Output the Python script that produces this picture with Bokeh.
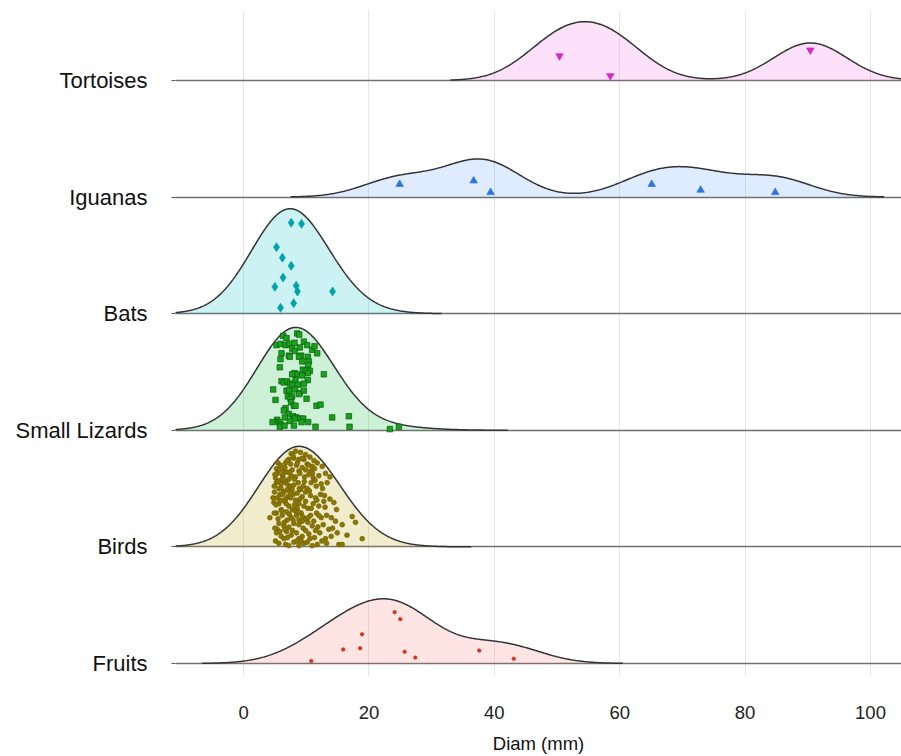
import numpy as np
from bokeh.plotting import figure
from bokeh.models import FixedTicker, Range1d
from bokeh.embed import file_html
from bokeh.resources import INLINE

# ---------------- data ----------------
categories = ["Fruits", "Birds", "Small Lizards", "Bats", "Iguanas", "Tortoises"]
x_ticks = [0, 20, 40, 60, 80, 100]

fruits_diam = [10.8, 15.9, 18.6, 18.9, 24.1, 25.0, 25.7, 27.4, 37.6, 43.1]
fruits_jit = [0.02, 0.12, 0.13, 0.25, 0.44, 0.38, 0.10, 0.05, 0.11, 0.04]

birds_diam = [
    7.60, 8.29, 9.09, 9.89, 10.58, 8.03, 8.83, 9.62, 11.22, 7.23,
    5.48, 5.90, 6.70, 7.50, 8.45, 9.36, 10.15, 10.95, 11.75, 12.55, 5.26, 6.43, 7.76, 8.83, 10.69, 11.32,
    5.37, 6.17, 6.86, 7.60, 8.29, 8.98, 9.73, 10.42, 11.11, 12.01, 13.08, 13.77, 5.10, 5.90, 7.23,
    5.26, 6.01, 6.70, 7.39, 8.03, 8.72, 9.52, 10.15, 10.79, 11.59, 12.39, 13.34, 5.64, 6.96, 7.76, 9.09,
    4.94, 5.79, 6.43, 7.07, 7.92, 8.56, 9.36, 9.89, 10.69, 11.48, 12.28, 12.92, 13.77, 5.37, 6.70, 8.29,
    4.84, 5.64, 6.54, 7.23, 8.13, 8.83, 9.62, 10.26, 11.11, 12.01, 12.81, 14.41, 14.83, 6.01, 7.76, 8.56,
    5.26, 6.17, 6.86, 7.60, 8.45, 9.20, 9.89, 10.69, 11.64, 12.39, 13.24, 17.33, 4.20, 8.83, 6.96,
    5.64, 6.43, 7.23, 8.03, 8.83, 9.52, 10.26, 10.95, 11.86, 12.71, 13.61, 14.67, 15.74, 17.86, 5.37, 9.36,
    5.26, 6.01, 6.86, 7.60, 8.45, 9.36, 10.42, 11.32, 12.17, 13.08, 13.98, 14.94, 18.93, 6.43, 8.83,
    5.10, 5.64, 6.70, 8.03, 9.20, 9.62, 10.15, 11.75, 13.24, 15.20, 15.74, 7.23, 8.83, 10.95,
    5.0, 5.7, 6.3, 6.6, 7.0, 7.3, 7.9, 8.6, 9.4, 9.9, 10.4, 11.0,
    4.9, 5.5, 6.0, 6.3, 6.9, 7.4, 8.1, 8.9, 9.7, 10.5, 11.4, 12.6,
    4.7, 5.2, 5.9, 6.2, 6.8, 7.5, 8.2, 9.0, 9.9, 10.8, 11.7, 13.0,
    4.9, 5.5, 6.1, 6.5, 7.3, 7.9, 8.7, 9.4, 10.3, 11.2, 12.0, 14.0,
    5.0, 5.8, 6.6, 7.0, 7.8, 8.5, 9.9, 10.6, 11.5, 12.5, 14.2, 16.5,
]
birds_jit = [
    0.80, 0.82, 0.81, 0.79, 0.77, 0.76, 0.75, 0.75, 0.74, 0.75,
    0.72, 0.70, 0.72, 0.71, 0.70, 0.68, 0.71, 0.69, 0.72, 0.69, 0.67, 0.66, 0.66, 0.65, 0.65, 0.67,
    0.63, 0.62, 0.64, 0.61, 0.60, 0.63, 0.60, 0.62, 0.59, 0.61, 0.63, 0.60, 0.59, 0.57, 0.58,
    0.55, 0.54, 0.56, 0.52, 0.53, 0.55, 0.52, 0.50, 0.55, 0.52, 0.54, 0.55, 0.50, 0.49, 0.49, 0.49,
    0.47, 0.45, 0.47, 0.43, 0.45, 0.46, 0.43, 0.47, 0.44, 0.42, 0.45, 0.44, 0.41, 0.42, 0.41, 0.40,
    0.38, 0.37, 0.39, 0.35, 0.36, 0.37, 0.35, 0.33, 0.37, 0.35, 0.39, 0.38, 0.32, 0.32, 0.32, 0.33,
    0.29, 0.27, 0.30, 0.25, 0.27, 0.29, 0.24, 0.27, 0.29, 0.25, 0.27, 0.26, 0.25, 0.23, 0.23,
    0.20, 0.18, 0.17, 0.20, 0.19, 0.16, 0.21, 0.18, 0.17, 0.19, 0.15, 0.22, 0.19, 0.21, 0.15, 0.22,
    0.12, 0.09, 0.13, 0.10, 0.12, 0.09, 0.11, 0.08, 0.12, 0.07, 0.09, 0.12, 0.07, 0.07, 0.07,
    0.05, 0.03, 0.02, 0.04, 0.05, 0.03, 0.04, 0.02, 0.03, 0.02, 0.02, 0.01, 0.01, 0.01,
    0.62, 0.66, 0.60, 0.68, 0.74, 0.64, 0.78, 0.72, 0.76, 0.66, 0.70, 0.63,
    0.52, 0.56, 0.50, 0.58, 0.54, 0.47, 0.58, 0.50, 0.56, 0.48, 0.57, 0.50,
    0.42, 0.36, 0.40, 0.45, 0.37, 0.42, 0.31, 0.41, 0.39, 0.33, 0.40, 0.34,
    0.29, 0.24, 0.31, 0.21, 0.28, 0.23, 0.30, 0.26, 0.25, 0.22, 0.27, 0.25,
    0.16, 0.13, 0.15, 0.08, 0.14, 0.05, 0.14, 0.07, 0.14, 0.05, 0.16, 0.10,
]

lizards_diam = [
    6.33, 6.86, 8.56, 8.88, 5.26, 5.90, 6.70, 7.28, 8.13, 9.62, 10.15, 10.95, 11.32, 11.75,
    6.06, 7.23, 7.76, 8.19, 8.98, 9.20, 5.90, 7.39, 8.83, 10.26, 10.42, 9.36, 10.31, 5.79,
    8.13, 8.45, 7.76, 9.46, 9.89, 10.58, 10.26, 9.36, 12.81, 6.06, 6.43, 6.96, 7.39, 8.29,
    10.26, 7.76, 8.72, 9.62, 4.73, 6.86, 7.28, 8.19, 8.98, 9.62, 7.07, 7.76, 8.83, 10.05,
    5.10, 7.50, 7.60, 8.03, 8.29, 11.64, 12.28, 6.70, 6.43, 7.23, 6.59, 7.92, 8.45, 8.13,
    9.09, 9.52, 5.37, 4.63, 5.64, 5.90, 5.79, 6.54, 7.39, 8.03, 9.25, 10.31, 11.48, 14.14,
    16.80, 16.91, 23.34, 24.77,
]
lizards_jit = [
    0.81, 0.79, 0.83, 0.82, 0.73, 0.74, 0.73, 0.74, 0.75, 0.76, 0.73, 0.69, 0.72, 0.66,
    0.66, 0.64, 0.70, 0.68, 0.71, 0.64, 0.61, 0.63, 0.63, 0.63, 0.59, 0.59, 0.56, 0.54,
    0.49, 0.48, 0.48, 0.52, 0.51, 0.51, 0.49, 0.47, 0.48, 0.42, 0.41, 0.42, 0.40, 0.43,
    0.43, 0.39, 0.39, 0.40, 0.35, 0.34, 0.34, 0.35, 0.32, 0.34, 0.29, 0.29, 0.31, 0.27,
    0.26, 0.27, 0.24, 0.21, 0.21, 0.21, 0.22, 0.19, 0.17, 0.14, 0.11, 0.12, 0.11, 0.10,
    0.10, 0.10, 0.09, 0.07, 0.07, 0.05, 0.03, 0.04, 0.08, 0.04, 0.07, 0.07, 0.03, 0.11,
    0.12, 0.03, 0.01, 0.03,
]

bats_diam = [7.6, 9.25, 5.26, 6.2, 7.6, 6.3, 5.0, 8.4, 8.6, 14.2, 8.0, 5.9]
bats_jit = [0.78, 0.77, 0.57, 0.48, 0.41, 0.31, 0.23, 0.24, 0.19, 0.19, 0.09, 0.05]

iguanas_diam = [24.9, 36.7, 39.4, 65.1, 72.9, 84.8]
iguanas_jit = [0.11, 0.14, 0.04, 0.11, 0.06, 0.04]

tortoises_diam = [50.4, 58.5, 90.4]
tortoises_jit = [0.21, 0.04, 0.26]

BANDWIDTH = 5.8   # joint kernel bandwidth (mm)
SCALE = 0.9       # tallest ridge height, in row units

groups = [
    # name, diam, jitter, base colour, point colour, point line, marker, size
    ("Fruits", fruits_diam, fruits_jit, "#F8766D", "#D5301F", "#D5301F", "circle", 3.5),
    ("Birds", birds_diam, birds_jit, "#B79F00", "#8C7700", "#6E5E00", "circle", 4.8),
    ("Small Lizards", lizards_diam, lizards_jit, "#00BA38", "#16A21A", "#0B5A0B", "square", 5.5),
    ("Bats", bats_diam, bats_jit, "#00BFC4", "#00A3A8", "#00A3A8", "diamond", 9),
    ("Iguanas", iguanas_diam, iguanas_jit, "#619CFF", "#2B76E3", "#2B76E3", "triangle", 7.5),
    ("Tortoises", tortoises_diam, tortoises_jit, "#F564E3", "#D626C6", "#D626C6", "inverted_triangle", 7.5),
]


def kde(data, bw):
    d = np.asarray(data, dtype=float)
    xs = np.linspace(d.min() - 3 * bw, d.max() + 3 * bw, 512)
    z = (xs[:, None] - d[None, :]) / bw
    dens = np.exp(-0.5 * z ** 2).sum(axis=1) / (len(d) * bw * np.sqrt(2 * np.pi))
    return xs, dens


curves = {g[0]: kde(g[1], BANDWIDTH) for g in groups}
gmax = max(c[1].max() for c in curves.values())

p = figure(width=901, height=756, output_backend="svg", toolbar_location=None,
           x_range=Range1d(-10.85, 104.94), y_range=Range1d(0.888, 6.6),
           min_border_left=175, min_border_right=0, min_border_top=10, min_border_bottom=80)
p.outline_line_color = None
p.background_fill_color = "white"

# grid
p.xgrid.ticker = FixedTicker(ticks=x_ticks)
p.xgrid.grid_line_color = "#E6E6E6"
p.xgrid.grid_line_width = 1
p.ygrid.ticker = FixedTicker(ticks=list(range(1, len(categories) + 1)))
p.ygrid.grid_line_color = "#707070"
p.ygrid.grid_line_width = 1.6

# axes
p.xaxis.ticker = FixedTicker(ticks=x_ticks)
p.xaxis.axis_line_color = None
p.xaxis.major_tick_line_color = None
p.xaxis.minor_tick_line_color = None
p.xaxis.major_label_standoff = 23
p.xaxis.major_label_text_font = "Liberation Sans"
p.xaxis.major_label_text_font_size = "18.5px"
p.xaxis.major_label_text_color = "#222222"
p.xaxis.axis_label = "Diam (mm)"
p.xaxis.axis_label_text_font = "Liberation Sans"
p.xaxis.axis_label_text_font_size = "18.5px"
p.xaxis.axis_label_text_font_style = "normal"
p.xaxis.axis_label_text_color = "#111111"
p.xaxis.axis_label_standoff = 11

p.yaxis.ticker = FixedTicker(ticks=list(range(1, len(categories) + 1)))
p.yaxis.major_label_overrides = {i + 1: c for i, c in enumerate(categories)}
p.yaxis.axis_line_color = None
p.yaxis.minor_tick_line_color = None
p.yaxis.major_tick_in = 0
p.yaxis.major_tick_out = 4
p.yaxis.major_tick_line_color = "#555555"
p.yaxis.major_label_standoff = 24
p.yaxis.major_label_text_font = "Liberation Sans"
p.yaxis.major_label_text_font_size = "22px"
p.yaxis.major_label_text_color = "#111111"

# ridges, drawn from the top row down so lower rows sit in front
for name, diam, jit, col, pcol, pline, marker, size in reversed(groups):
    base = categories.index(name) + 1
    xs, dens = curves[name]
    top = base + dens / gmax * SCALE
    p.varea(x=xs, y1=np.full_like(xs, base), y2=top, fill_color=col, fill_alpha=0.2)
    p.line(xs, top, line_color="#333333", line_width=1.5)
    p.scatter(x=diam, y=[base + j for j in jit], marker=marker, size=size,
              fill_color=pcol, line_color=pline, line_width=0.7)

open("out.html", "w").write(file_html(p, INLINE))
